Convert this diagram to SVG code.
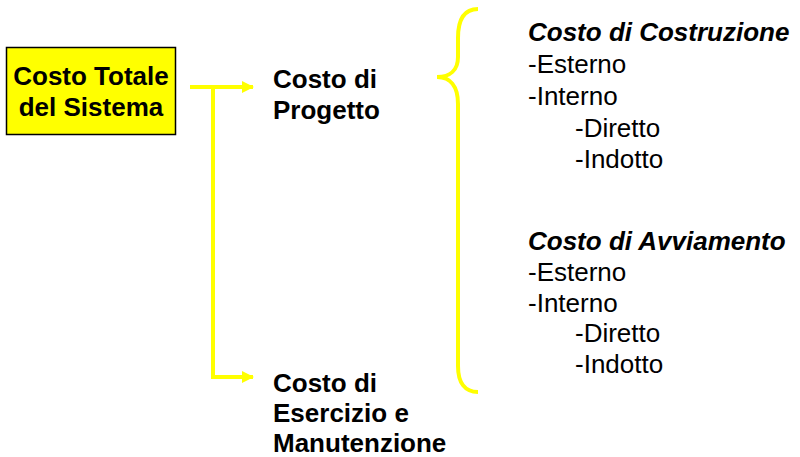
<svg xmlns="http://www.w3.org/2000/svg" width="800" height="457" viewBox="0 0 800 457">
<defs>
<style>
text{font-family:"Liberation Sans",Arial,sans-serif;font-size:26px;fill:#000}
.b{font-weight:bold}
.bi{font-weight:bold;font-style:italic}
.ln{fill:none;stroke:#FFFF00;stroke-width:4}
</style>
<marker id="ah" markerWidth="12" markerHeight="12" refX="11" refY="6" orient="auto" markerUnits="userSpaceOnUse">
<path d="M0,0 L12,6 L0,12 Z" fill="#FFFF00"/>
</marker>
</defs>
<rect width="800" height="457" fill="#fff"/>
<g id="totale">
<rect x="6.5" y="47.5" width="169" height="87" fill="#FFFF00" stroke="#000" stroke-width="1.5"/>
<text class="b" x="91" y="85" text-anchor="middle">Costo Totale</text>
<text class="b" x="91" y="116" text-anchor="middle">del Sistema</text>
</g>
<g id="progetto">
<text class="b" x="273" y="88">Costo di</text>
<text class="b" x="273" y="119">Progetto</text>
</g>
<g id="esercizio">
<text class="b" x="273" y="392">Costo di</text>
<text class="b" x="273" y="422">Esercizio e</text>
<text class="b" x="273" y="452">Manutenzione</text>
</g>
<g id="costruzione">
<text class="bi" x="528" y="41">Costo di Costruzione</text>
<text x="528" y="73">-Esterno</text>
<text x="528" y="105">-Interno</text>
<text x="575" y="137">-Diretto</text>
<text x="575" y="168">-Indotto</text>
</g>
<g id="avviamento">
<text class="bi" x="528" y="250">Costo di Avviamento</text>
<text x="528" y="281">-Esterno</text>
<text x="528" y="312">-Interno</text>
<text x="575" y="342">-Diretto</text>
<text x="575" y="373">-Indotto</text>
</g>
<g id="connectors">
<path class="ln" d="M190,87 L253,87" marker-end="url(#ah)"/>
<path class="ln" d="M213,87 L213,377 L253,377" marker-end="url(#ah)"/>
<path class="ln" stroke-width="3.5" d="M478,9 C464,9 458,20 458,38 L458,57 C458,70 450,77 437,77 C450,77 458,86 458,104 L458,366 C458,383 465,392 478,392"/>
</g>
</svg>
